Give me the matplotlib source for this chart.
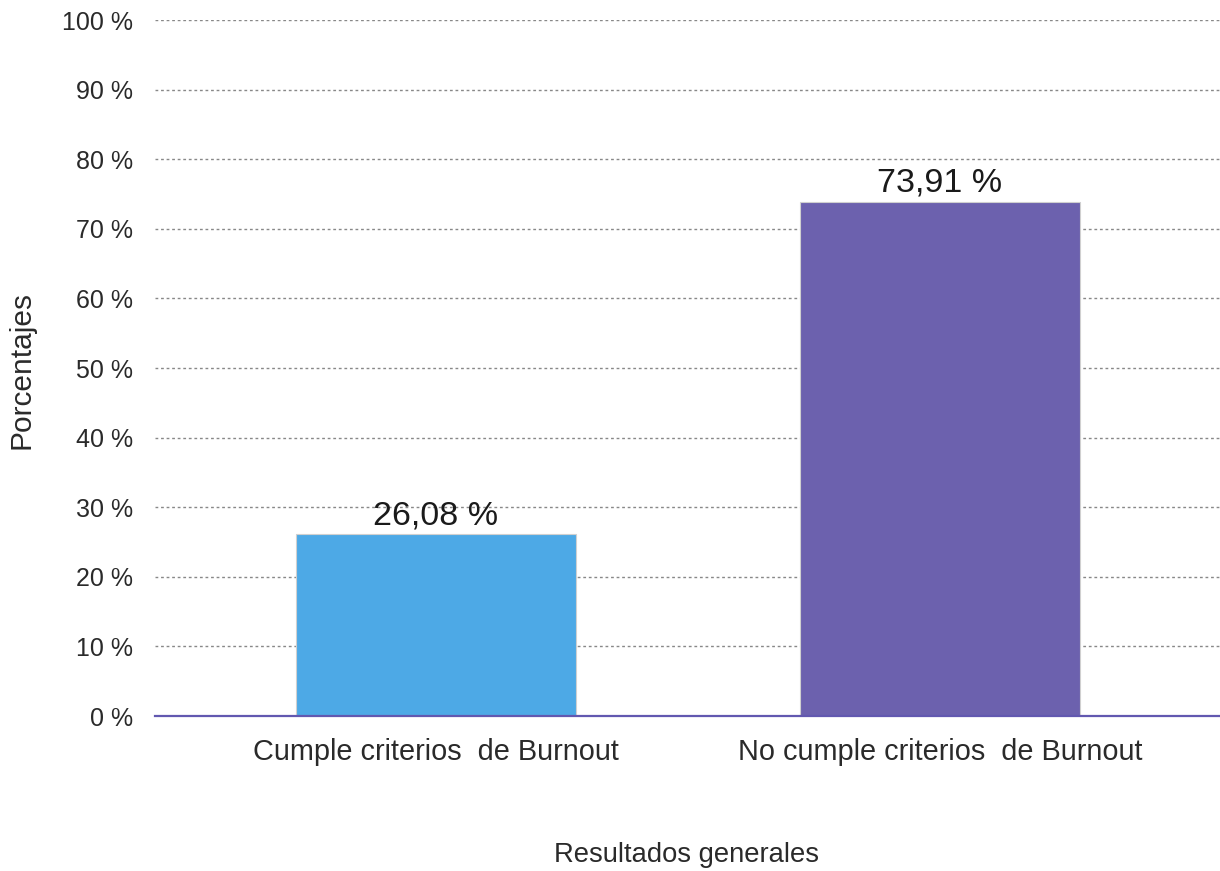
import matplotlib.pyplot as plt
from matplotlib.ticker import MultipleLocator, FuncFormatter

plt.rcParams['font.family'] = ['Liberation Sans', 'DejaVu Sans']

categorias = ["Cumple criterios  de Burnout", "No cumple criterios  de Burnout"]
porcentajes = [26.08, 73.91]
etiquetas = ["26,08 %", "73,91 %"]
colores = ["#4DA9E6", "#6C61AE"]

fig = plt.figure(figsize=(12.2, 8.71), dpi=100)
ax = fig.add_axes([155 / 1220, 1 - 716 / 871, 1 - 155 / 1220, (716 - 20) / 871])

pos = range(len(categorias))
ax.bar(pos, porcentajes, width=0.556, color=colores, edgecolor="#d0d0d0",
       linewidth=0.8, zorder=3)

for p, v, t in zip(pos, porcentajes, etiquetas):
    ax.text(p, v + 0.5, t, ha="center", va="bottom", fontsize=24.5,
            color="#1a1a1a", zorder=4)

ax.set_xlim(-0.5575, 1.5556)
ax.set_ylim(0, 100)
ax.yaxis.set_major_locator(MultipleLocator(10))
ax.yaxis.set_major_formatter(FuncFormatter(lambda v, _: f"{v:.0f} %"))
ax.set_xticks(list(pos))
ax.set_xticklabels(categorias)

# dotted horizontal grid, purple baseline
for v in range(10, 101, 10):
    ax.axhline(v, color="#888888", linestyle=(0, (2, 2)), linewidth=1.0, zorder=1)
ax.axhline(0, color="#6258B0", linewidth=1.6, zorder=5, clip_on=False)

for s in ax.spines.values():
    s.set_visible(False)
ax.tick_params(axis="both", length=0, labelcolor="#2a2a2a")
ax.tick_params(axis="y", pad=16, labelsize=18)
ax.tick_params(axis="x", pad=16, labelsize=20.8)

fig.text(687 / 1220, 1 - 855 / 871, "Resultados generales", ha="center",
         va="center", fontsize=19.7, color="#2a2a2a")
fig.text(22 / 1220, 1 - 370 / 871, "Porcentajes", ha="center", va="center",
         rotation=90, fontsize=21.5, color="#2a2a2a")

fig.savefig("out.png", dpi=100, facecolor="white")
